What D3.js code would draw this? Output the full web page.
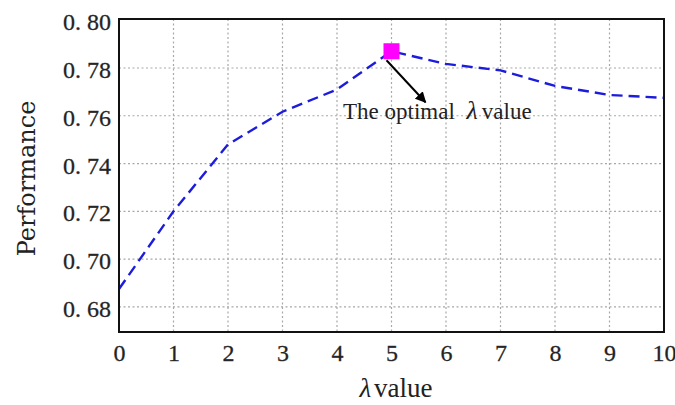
<!DOCTYPE html>
<html>
<head>
<meta charset="utf-8">
<script src="https://cdn.jsdelivr.net/npm/d3@7"></script>
<style>
  body { margin: 0; background: #fff; }
  svg text { font-family: "Liberation Serif", "Times New Roman", serif; fill: #222; }
</style>
</head>
<body>
<div id="chart"></div>
<script>
// data
const lambdas = [0, 1, 2, 3, 4, 5, 6, 7, 8, 9, 10];
const performance = [0.6875, 0.720, 0.748, 0.7617, 0.771, 0.787, 0.7817, 0.779, 0.7725, 0.7687, 0.7675];
const yTicks = [0.68, 0.70, 0.72, 0.74, 0.76, 0.78, 0.80];
const yTickLabels = ['0. 68', '0. 70', '0. 72', '0. 74', '0. 76', '0. 78', '0. 80'];
const optimalIndex = 5;

const W = 675, H = 405;
const margin = { top: 19, right: 11, bottom: 73, left: 119 };
const width = W - margin.left - margin.right;
const height = H - margin.top - margin.bottom;

const svg = d3.select('#chart').append('svg')
  .attr('width', W)
  .attr('height', H);

const g = svg.append('g')
  .attr('transform', `translate(${margin.left},${margin.top})`);

const x = d3.scaleLinear().domain([0, 10]).range([0, width]);
const y = d3.scaleLinear().domain([0.6695, 0.8005]).range([height, 0]);

// grid
g.append('g')
  .selectAll('line')
  .data(lambdas.slice(1, -1))
  .enter().append('line')
  .attr('x1', d => x(d)).attr('x2', d => x(d))
  .attr('y1', 0).attr('y2', height)
  .attr('stroke', '#a8a8a8').attr('stroke-width', 1.2)
  .attr('stroke-dasharray', '2,2.5');

g.append('g')
  .selectAll('line')
  .data(yTicks.slice(0, -1))
  .enter().append('line')
  .attr('x1', 0).attr('x2', width)
  .attr('y1', d => y(d)).attr('y2', d => y(d))
  .attr('stroke', '#a8a8a8').attr('stroke-width', 1.2)
  .attr('stroke-dasharray', '2,2.5');

// axes (labels only)
const xAxis = g.append('g')
  .attr('transform', `translate(0,${height})`)
  .call(d3.axisBottom(x).tickValues(lambdas).tickFormat(d3.format('d')).tickSize(0).tickPadding(12));

const yAxis = g.append('g')
  .call(d3.axisLeft(y).tickValues(yTicks).tickFormat((d, i) => yTickLabels[i]).tickSize(0).tickPadding(8));

[xAxis, yAxis].forEach(a => {
  a.select('.domain').remove();
  a.selectAll('text')
    .style('font-family', '"Liberation Serif", serif')
    .style('font-size', '24px')
    .attr('fill', '#333')
    .attr('stroke', '#333').attr('stroke-width', 0.3);
});
yAxis.selectAll('text').attr('dy', '0.4em');

// line
const line = d3.line()
  .x((d, i) => x(lambdas[i]))
  .y(d => y(d));

g.append('path')
  .datum(performance)
  .attr('fill', 'none')
  .attr('stroke', '#1c1cdc')
  .attr('stroke-width', 2.4)
  .attr('stroke-dasharray', '11,6')
  .attr('d', line);

// frame
g.append('rect')
  .attr('width', width).attr('height', height)
  .attr('fill', 'none')
  .attr('stroke', '#111')
  .attr('stroke-width', 2);

// optimal marker
const ox = x(lambdas[optimalIndex]), oy = y(performance[optimalIndex]);
g.append('rect')
  .attr('x', ox - 8).attr('y', oy - 8)
  .attr('width', 16).attr('height', 16)
  .attr('fill', '#ff00ff');

// annotation arrow
svg.append('defs').append('marker')
  .attr('id', 'arrow')
  .attr('viewBox', '0 0 10 10')
  .attr('refX', 9).attr('refY', 5)
  .attr('markerWidth', 5.5).attr('markerHeight', 5.5)
  .attr('orient', 'auto')
  .append('path').attr('d', 'M0,0 L10,5 L0,10 Z').attr('fill', '#000');

g.append('line')
  .attr('x1', ox - 5).attr('y1', oy + 9)
  .attr('x2', ox + 34).attr('y2', oy + 51)
  .attr('stroke', '#000').attr('stroke-width', 2)
  .attr('marker-end', 'url(#arrow)');

const note = g.append('text')
  .attr('x', 343 - margin.left)
  .attr('y', 119 - margin.top)
  .style('font-size', '23px')
  .attr('fill', '#111');
note.append('tspan').text('The optimal ');
note.append('tspan').attr('dx', 6).style('font-style', 'italic').style('font-size', '26px').text('λ');
note.append('tspan').attr('dx', 4).text('value');

// axis titles
svg.append('text')
  .attr('transform', `translate(35,${margin.top + height / 2 + 3}) rotate(-90)`)
  .attr('text-anchor', 'middle')
  .style('font-family', '"DejaVu Serif", serif')
  .style('font-size', '24px')
  .attr('fill', '#333')
  .text('Performance');

const xt = svg.append('text')
  .attr('x', 396)
  .attr('y', 397)
  .attr('text-anchor', 'middle')
  .style('font-size', '27px')
  .attr('fill', '#333');
xt.append('tspan').style('font-style', 'italic').text('λ');
xt.append('tspan').attr('dx', 3).text('value');
</script>
</body>
</html>
